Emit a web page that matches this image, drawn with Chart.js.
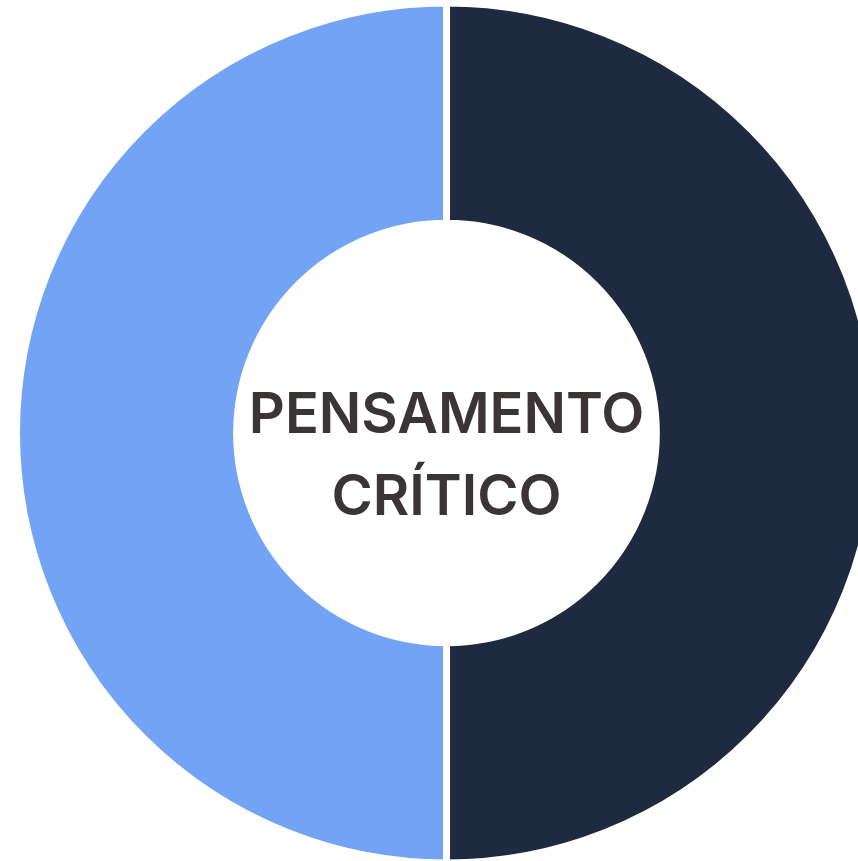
<!DOCTYPE html>
<html>
<head>
<meta charset="utf-8">
<script src="https://cdn.jsdelivr.net/npm/chart.js@4/dist/chart.umd.min.js"></script>
<style>
html,body{margin:0;padding:0;background:#fff;overflow:hidden;}
#wrap{width:858px;height:861px;position:relative;}
</style>
</head>
<body>
<div id="wrap"><canvas id="c" width="858" height="861"></canvas></div>
<script>
const categories = ["Parte 1", "Parte 2"];
const values = [50, 50];
const colors = ["#1e2a40", "#72a3f5"];
const centerLines = ["PENSAMENTO", "CRÍTICO"];

const centerText = {
  id: 'centerText',
  afterDraw(chart) {
    const ctx = chart.ctx;
    const meta = chart.getDatasetMeta(0);
    const arc = meta.data[0];
    const cx = arc.x, cy = arc.y;
    ctx.save();
    ctx.fillStyle = '#3a3434';
    ctx.font = '600 56px Inter';
    ctx.textAlign = 'center';
    ctx.textBaseline = 'alphabetic';
    ctx.fillText(centerLines[0], cx, cy + 0);
    ctx.fillText(centerLines[1], cx, cy + 82);
    ctx.restore();
  }
};

new Chart(document.getElementById('c'), {
  type: 'doughnut',
  data: {
    labels: categories,
    datasets: [{
      data: values,
      backgroundColor: colors,
      borderColor: '#ffffff',
      borderWidth: 7,
      radius: 430,
      cutout: '48.8%'
    }]
  },
  options: {
    responsive: false,
    animation: false,
    layout: { padding: { left: 35, top: 5, right: 0, bottom: 0 } },
    plugins: { legend: { display: false }, tooltip: { enabled: false } }
  },
  plugins: [centerText]
});
</script>
</body>
</html>
